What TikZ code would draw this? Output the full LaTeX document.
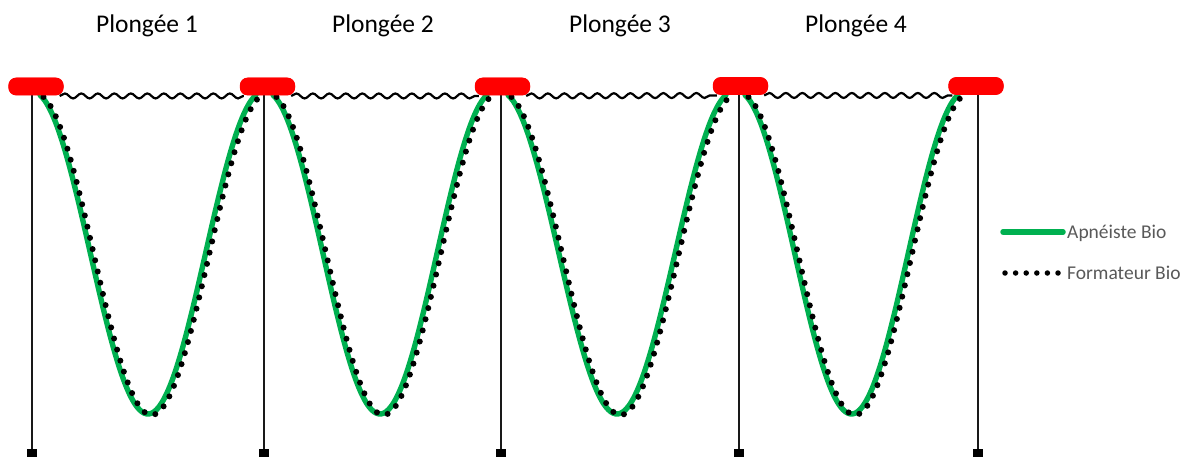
\documentclass[tikz,border=0pt]{standalone}
\usepackage{fontspec}
\setmainfont{Carlito}
\usetikzlibrary{decorations.pathmorphing,calc}
\definecolor{divegreen}{RGB}{0,176,80}
\definecolor{legendgray}{RGB}{89,89,89}
\tikzset{
  buoy/.style={fill=red, draw=none, rounded corners=8pt, minimum width=55pt, minimum height=17.5pt, inner sep=0pt},
  rope/.style={line width=1.4pt, draw=black!90},
  anchorbox/.style={fill=black, minimum size=10.5pt, inner sep=0pt},
  wave/.style={line width=2.2pt, decorate, decoration={snake, segment length=16.5pt, amplitude=2.5pt}},
  greenpath/.style={draw=divegreen, line width=5.4pt, line cap=round},
  dotpath/.style={draw=black, line width=6pt, line cap=round, dash pattern=on 0pt off 11.5pt},
  title/.style={font=\fontsize{25.5}{30}\selectfont, anchor=base},
  legendtext/.style={font=\fontsize{19.5}{23}\selectfont, text=legendgray, anchor=base west, inner sep=0pt}
}
\begin{document}
\begin{tikzpicture}[x=1pt,y=-1pt]
\useasboundingbox (0,0) rectangle (1191,457);
\pgfmathsetmacro{\ph}{11.5}
\pgfmathsetmacro{\ca}{cos(\ph)}
% titles
\node[title] (t1) at (147,33) {Plongée 1};
\node[title] (t2) at (383,33) {Plongée 2};
\node[title] (t3) at (620,33) {Plongée 3};
\node[title] (t4) at (856,33) {Plongée 4};
% buoys
\node[buoy] (b1) at (36,86.5) {};
\node[buoy] (b2) at (267.5,86.5) {};
\node[buoy] (b3) at (502.5,86.5) {};
\node[buoy] (b4) at (740.5,86) {};
\node[buoy] (b5) at (976,86) {};
% anchor weights
\node[anchorbox] (s1) at (32,454) {};
\node[anchorbox] (s2) at (264,454) {};
\node[anchorbox] (s3) at (501,454) {};
\node[anchorbox] (s4) at (739,454) {};
\node[anchorbox] (s5) at (978,454) {};
% vertical ropes
\coordinate (r1) at (32,90);
\coordinate (r2) at (264,90);
\coordinate (r3) at (501,90);
\coordinate (r4) at (739,90);
\coordinate (r5) at (978,90);
\foreach \i in {1,...,5}{\draw[rope] (r\i) -- (s\i);}
% wavy ropes
\foreach \i/\j in {1/2,2/3,3/4,4/5}{
  \draw[wave] ($(b\i.south east)+(-4,0.5)$) -- ($(b\j.south west)+(4,0.5)$);
}
% dives
\foreach \xs/\xe in {40/256, 273/487, 508/726, 745/958}{
  \draw[greenpath] plot[domain=0:1, samples=90, smooth] ({\xs+(\xe-\xs)*\x}, {95+319*(\ca-cos(\ph+(360-2*\ph)*\x))/(1+\ca)});
  \draw[dotpath] plot[domain=0:1, samples=90, smooth] ({\xs+3.5+(\xe-\xs)*\x}, {97+318*(\ca-cos(\ph+(360-2*\ph)*\x))/(1+\ca)});
}
% buoys on top again
\foreach \i in {1,...,5}{\fill[red, rounded corners=8pt] (b\i.south west) rectangle (b\i.north east);}
% legend
\coordinate (lg1) at (1003,232);
\coordinate (lg2) at (1063,232);
\draw[greenpath, line width=5.5pt] (lg1) -- (lg2);
\node[legendtext] (la) at (1067,238.5) {Apnéiste Bio};
\coordinate (ld1) at (1005,273);
\coordinate (ld2) at (1060,273);
\draw[black, line width=5.5pt, line cap=round, dash pattern=on 0pt off 10.6pt] (ld1) -- (ld2);
\node[legendtext] (lb) at (1067,279.5) {Formateur Bio};
\end{tikzpicture}
\end{document}
